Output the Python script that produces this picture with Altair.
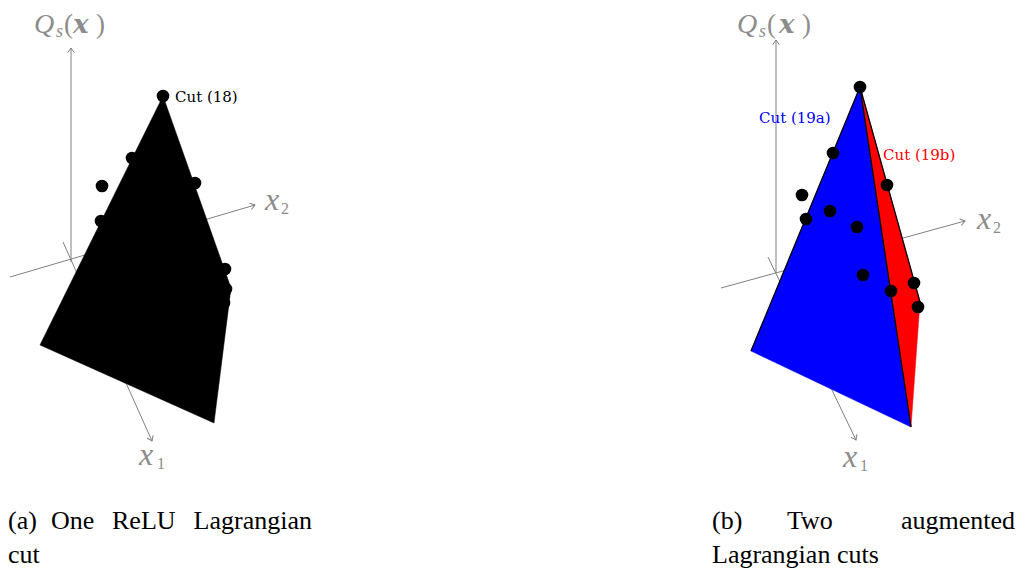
import math
import altair as alt
import pandas as pd

GRAY_LINE = "#808080"
GRAY_TEXT = "#8c8c8c"
IT_FONT = "Liberation Serif"
BI_FONT = "DejaVu Serif"
CAP_FONT = "Liberation Serif"

# ---------------- data ----------------
# coordinate axes: start point and arrow tip (panel a: 3 axes, panel b: 3 axes)
AXIS_X0 = [71, 10, 63, 776, 721, 768]
AXIS_Y0 = [262, 277, 242, 273, 288, 257]
AXIS_X1 = [71, 255, 152, 776, 965, 856]
AXIS_Y1 = [48, 205, 441, 40, 221, 440]

# panel (a): single ReLU Lagrangian cut (black face)
CUT_A_X = [163, 231, 214, 40]
CUT_A_Y = [96, 288, 423, 345]
# panel (b): cut (19a) blue face, cut (19b) red face
CUT_19A_X = [860, 911, 751]
CUT_19A_Y = [87, 427, 351]
CUT_19B_X = [860, 920, 911]
CUT_19B_Y = [87, 302, 427]
# black outline segments in panel (b)
EDGE_X0 = [751, 860, 860]
EDGE_Y0 = [351, 87, 87]
EDGE_X1 = [860, 911, 920]
EDGE_Y1 = [87, 427, 302]

# sample points
PTS_A_X = [163, 132, 102, 101, 195, 225, 226, 224, 128, 155, 165]
PTS_A_Y = [96, 158, 186, 221, 183, 269, 289, 303, 205, 222, 262]
PTS_B_X = [860, 833, 802, 806, 830, 857, 887, 863, 891, 914, 918]
PTS_B_Y = [87, 153, 195, 219, 211, 227, 185, 275, 291, 283, 307]

# cut labels
CUT_LABELS = ["Cut (18)", "Cut (19a)", "Cut (19b)"]
CUT_LABEL_X = [175, 759, 883]
CUT_LABEL_Y = [97, 118, 155]
CUT_LABEL_COLOR = ["black", "#0000ff", "#ff0000"]

# axis titles, split into pieces (italic / bold italic / upright)
IT_TEXT = ["Q", "s", "x", "x", "Q", "s", "x", "x"]
IT_X = [34, 56, 265, 139, 737, 759, 977, 843]
IT_Y = [33, 37, 210, 465, 33, 37, 229, 467]
IT_SIZE = [28, 18, 32, 32, 28, 18, 32, 32]

BI_TEXT = ["x", "x"]
BI_X = [73, 779]
BI_Y = [33, 33]
BI_SIZE = [26, 26]

UP_TEXT = ["(", ")", "2", "1", "(", ")", "2", "1"]
UP_X = [64, 96, 281, 157, 767, 802, 993, 860]
UP_Y = [33, 33, 214, 469, 33, 33, 233, 471]
UP_SIZE = [27, 27, 16, 16, 27, 27, 16, 16]

# captions (justified words)
CAP_L_TEXT = ["(a)", "One", "ReLU", "cut", "(b)", "Two", "Lagrangian cuts"]
CAP_L_X = [8, 51, 112, 8, 712, 787, 712]
CAP_L_Y = [529, 529, 529, 563, 529, 529, 563]
CAP_R_TEXT = ["Lagrangian", "augmented"]
CAP_R_X = [312, 1015]
CAP_R_Y = [529, 529]

# ---------------- chart ----------------
xs = alt.Scale(domain=[8, 1016])
ys = alt.Scale(domain=[8, 569], reverse=True)
X = lambda f: alt.X(f, type="quantitative", scale=xs, axis=None)
Y = lambda f: alt.Y(f, type="quantitative", scale=ys, axis=None)

axes_df = pd.DataFrame({"x": AXIS_X0, "y": AXIS_Y0, "x2": AXIS_X1, "y2": AXIS_Y1})
axes_df["ang"] = [
    (math.degrees(math.atan2(y1 - y0, x1 - x0)) + 360) % 360
    for x0, y0, x1, y1 in zip(AXIS_X0, AXIS_Y0, AXIS_X1, AXIS_Y1)
]

axis_lines = alt.Chart(axes_df).mark_rule(stroke=GRAY_LINE, strokeWidth=1).encode(
    x=X("x"), y=Y("y"), x2="x2", y2="y2"
)
arrow_heads = alt.Chart(axes_df).mark_point(
    shape="M-1,-0.7L0,0L-1,0.7", filled=False, stroke=GRAY_LINE, strokeWidth=1,
    size=90, opacity=1
).encode(x=X("x2"), y=Y("y2"), angle=alt.Angle("ang:Q", scale=None))


def poly(xv, yv, fill):
    df = pd.DataFrame({"x": xv, "y": yv, "i": list(range(len(xv)))})
    return alt.Chart(df).mark_line(
        fill=fill, stroke=fill, strokeWidth=0.5, interpolate="linear-closed"
    ).encode(x=X("x"), y=Y("y"), order=alt.Order("i:Q"))


poly_a = poly(CUT_A_X, CUT_A_Y, "black")
poly_b1 = poly(CUT_19A_X, CUT_19A_Y, "#0000ff")
poly_b2 = poly(CUT_19B_X, CUT_19B_Y, "#ff0000")

edges = alt.Chart(
    pd.DataFrame({"x": EDGE_X0, "y": EDGE_Y0, "x2": EDGE_X1, "y2": EDGE_Y1})
).mark_rule(stroke="black", strokeWidth=1.3).encode(x=X("x"), y=Y("y"), x2="x2", y2="y2")

pts = alt.Chart(
    pd.DataFrame({"x": PTS_A_X + PTS_B_X, "y": PTS_A_Y + PTS_B_Y})
).mark_circle(color="black", opacity=1, size=160).encode(x=X("x"), y=Y("y"))

cut_text = alt.Chart(
    pd.DataFrame({"t": CUT_LABELS, "x": CUT_LABEL_X, "y": CUT_LABEL_Y, "c": CUT_LABEL_COLOR})
).mark_text(font="DejaVu Serif", fontSize=15, align="left", baseline="middle").encode(
    x=X("x"), y=Y("y"), text="t:N", color=alt.Color("c:N", scale=None)
)


def pieces(texts, xv, yv, sizes, font, style, weight):
    df = pd.DataFrame({"t": texts, "x": xv, "y": yv, "s": sizes})
    return alt.Chart(df).mark_text(
        font=font, fontStyle=style, fontWeight=weight,
        align="left", baseline="alphabetic", color=GRAY_TEXT
    ).encode(x=X("x"), y=Y("y"), text="t:N", size=alt.Size("s:Q", scale=None))


it_text = pieces(IT_TEXT, IT_X, IT_Y, IT_SIZE, IT_FONT, "italic", "normal")
bi_text = pieces(BI_TEXT, BI_X, BI_Y, BI_SIZE, BI_FONT, "italic", "bold")
up_text = pieces(UP_TEXT, UP_X, UP_Y, UP_SIZE, IT_FONT, "normal", "normal")

cap_l = alt.Chart(pd.DataFrame({"t": CAP_L_TEXT, "x": CAP_L_X, "y": CAP_L_Y})).mark_text(
    font=CAP_FONT, fontSize=26, align="left", baseline="alphabetic", color="black"
).encode(x=X("x"), y=Y("y"), text="t:N")
cap_r = alt.Chart(pd.DataFrame({"t": CAP_R_TEXT, "x": CAP_R_X, "y": CAP_R_Y})).mark_text(
    font=CAP_FONT, fontSize=26, align="right", baseline="alphabetic", color="black"
).encode(x=X("x"), y=Y("y"), text="t:N")

chart = alt.layer(
    axis_lines, arrow_heads, poly_a, poly_b1, poly_b2, edges, pts,
    cut_text, it_text, bi_text, up_text, cap_l, cap_r
).properties(
    width=1008, height=561, autosize=alt.AutoSizeParams(type="none"), padding=0
).configure_view(stroke=None)

chart.save("out.html", embed_options={"renderer": "svg", "actions": False})
